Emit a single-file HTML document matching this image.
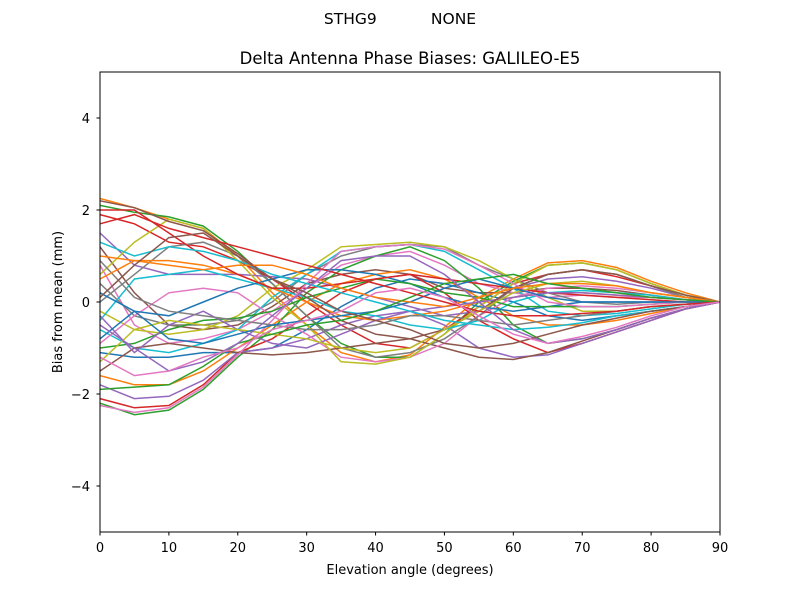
<!DOCTYPE html>
<html><head><meta charset="utf-8"><style>
body{margin:0;background:#fff;}
svg{display:block;font-family:"DejaVu Sans","Liberation Sans",sans-serif;}
</style></head><body>
<svg id="chart" width="800" height="600" viewBox="0 0 800 600">
<text x="400" y="24" text-anchor="middle" font-size="15.5" xml:space="preserve">STHG9           NONE</text>
<text x="410" y="64" text-anchor="middle" font-size="16.5">Delta Antenna Phase Biases: GALILEO-E5</text>
<g id="lines"></g>
<rect x="100" y="72" width="620" height="460" fill="none" stroke="#000" stroke-width="1"/>
<g id="ticks"></g>
<text x="410" y="574" text-anchor="middle" font-size="13">Elevation angle (degrees)</text>
<text x="62" y="302" text-anchor="middle" font-size="13" transform="rotate(-90 62 302)">Bias from mean (mm)</text>
</svg>
<script>
const elevations = [0,5,10,15,20,25,30,35,40,45,50,55,60,65,70,75,80,85,90];
const xTicks = [0,10,20,30,40,50,60,70,80,90];
const yTicks = [-4,-2,0,2,4];
const yTickLabels = ["\u22124","\u22122","0","2","4"];
const s1 = [2.25,2.05,1.8,1.6,1.0,0.2,-0.5,-1.1,-1.3,-1.15,-0.55,0.1,0.5,0.85,0.9,0.75,0.45,0.2,0];
const s2 = [2.1,1.95,1.85,1.65,1.1,0.4,-0.3,-0.9,-1.2,-1.2,-0.7,0.0,0.45,0.8,0.85,0.7,0.4,0.15,0];
const s3 = [1.9,1.7,1.3,1.2,0.9,0.5,0.0,-0.5,-0.9,-1.0,-0.6,-0.1,0.4,0.6,0.7,0.55,0.35,0.1,0];
const s4 = [1.5,0.8,0.6,0.6,0.6,0.55,0.5,0.3,0.1,-0.1,-0.3,-0.2,0.3,0.5,0.55,0.45,0.3,0.1,0];
const s5 = [1.2,0.2,-0.5,-0.6,-0.5,-0.1,0.4,0.6,0.7,0.6,0.3,0.2,0.2,0.3,0.3,0.25,0.15,0.05,0];
const s6 = [0.8,-0.5,-0.9,-0.8,-0.6,-0.2,0.3,0.8,1.0,1.1,0.8,0.4,0.2,0.1,0.15,0.1,0.1,0.05,0];
const s7 = [0.4,-0.3,-0.5,-0.5,-0.4,0.0,0.6,1.0,1.2,1.25,1.2,0.8,0.5,0.2,0.0,-0.05,0.0,0.0,0];
const s8 = [-0.2,-0.6,-0.7,-0.6,-0.3,0.3,0.7,1.2,1.25,1.3,1.2,0.9,0.5,0.1,-0.2,-0.2,-0.1,-0.05,0];
const s9 = [-0.6,-1.0,-1.1,-0.9,-0.6,0.1,0.6,1.1,1.2,1.25,1.1,0.7,0.3,-0.2,-0.3,-0.25,-0.15,-0.05,0];
const s10 = [-1.1,-1.2,-1.2,-1.1,-1.1,-1.0,-0.6,-0.1,0.3,0.5,0.4,0.2,0.0,-0.3,-0.4,-0.3,-0.2,-0.1,0];
const s11 = [-1.6,-1.8,-1.8,-1.5,-1.0,-0.5,0.0,0.4,0.6,0.7,0.5,0.1,-0.3,-0.5,-0.5,-0.4,-0.25,-0.1,0];
const s12 = [-2.2,-2.45,-2.35,-1.9,-1.2,-0.6,0.2,0.7,1.0,1.2,0.9,0.3,-0.5,-0.9,-0.8,-0.6,-0.35,-0.15,0];
const s13 = [-2.1,-2.3,-2.25,-1.8,-1.1,-0.8,-0.3,0.2,0.5,0.6,0.2,-0.4,-0.8,-1.1,-0.9,-0.65,-0.4,-0.15,0];
const s14 = [-1.8,-2.1,-2.05,-1.7,-1.1,-1.0,-0.8,-0.5,-0.3,-0.2,-0.5,-1.0,-1.2,-1.15,-0.9,-0.65,-0.4,-0.15,0];
const s15 = [-1.5,-1.0,-0.9,-1.0,-1.1,-1.15,-1.1,-1.0,-0.9,-0.8,-1.0,-1.2,-1.25,-1.1,-0.85,-0.6,-0.35,-0.15,0];
const s16 = [-0.9,-0.3,0.2,0.3,0.2,-0.3,-0.7,-1.2,-1.3,-1.2,-0.9,-0.3,0.1,0.3,0.35,0.3,0.2,0.1,0];
const s17 = [0.0,0.6,1.2,1.3,1.0,0.4,-0.3,-1.0,-1.2,-1.1,-0.8,-0.3,0.3,0.6,0.7,0.6,0.35,0.1,0];
const s18 = [0.6,1.3,1.8,1.6,0.9,0.1,-0.5,-1.3,-1.35,-1.2,-0.7,-0.1,0.4,0.8,0.85,0.7,0.4,0.15,0];
const s19 = [-0.4,0.5,0.6,0.7,0.5,0.3,0.1,-0.2,-0.3,-0.5,-0.6,-0.4,0.0,0.2,0.25,0.2,0.15,0.05,0];
const s20 = [0.2,-0.2,-0.3,0.0,0.3,0.5,0.7,0.7,0.6,0.4,0.1,-0.1,-0.2,-0.1,0.0,0.0,0.0,0.0,0];
const s21 = [1.0,0.9,0.9,0.8,0.6,0.3,0.0,-0.3,-0.4,-0.3,-0.2,0.0,0.1,0.2,0.2,0.15,0.1,0.05,0];
const s22 = [-1.0,-0.9,-0.6,-0.4,-0.35,-0.2,0.1,0.3,0.5,0.4,0.2,0.1,-0.1,-0.1,-0.1,-0.1,-0.05,0,0];
const s23 = [2.0,2.0,1.5,1.0,0.6,0.3,0.3,0.4,0.5,0.6,0.5,0.4,0.3,0.2,0.15,0.1,0.05,0,0];
const s24 = [-0.3,-1.1,-0.5,-0.2,-0.6,-0.9,-1.0,-0.7,-0.4,-0.2,-0.1,0.0,0.1,0.2,0.2,0.15,0.1,0.05,0];
const s25 = [2.2,2.05,1.75,1.55,1.05,0.5,0.1,-0.4,-0.7,-0.8,-0.6,-0.2,0.3,0.6,0.7,0.6,0.35,0.15,0];
const s26 = [-2.25,-2.4,-2.3,-1.85,-1.15,-0.4,0.4,1.1,1.2,1.25,1.15,0.8,0.4,0.0,-0.1,-0.1,-0.05,0,0];
const s27 = [0.9,0.1,-0.2,-0.3,-0.4,-0.5,-0.6,-0.6,-0.5,-0.3,-0.3,-0.4,-0.5,-0.4,-0.3,-0.2,-0.1,-0.05,0];
const s28 = [-1.3,-0.6,-0.4,-0.5,-0.6,-0.7,-0.8,-1.0,-1.1,-1.0,-0.6,-0.2,0.2,0.4,0.45,0.35,0.2,0.1,0];
const s29 = [1.3,1.0,1.2,1.1,0.9,0.6,0.4,0.2,0.0,-0.2,-0.4,-0.5,-0.6,-0.55,-0.45,-0.3,-0.2,-0.1,0];
const s30 = [-0.8,-0.2,-0.8,-0.9,-0.7,-0.5,-0.4,-0.3,-0.2,0.0,0.3,0.5,0.3,0.1,0.0,0.0,0.0,0.0,0];
const s31 = [0.5,0.9,0.8,0.7,0.8,0.8,0.6,0.3,0.1,0.0,-0.1,0.1,0.3,0.4,0.4,0.35,0.2,0.1,0];
const s32 = [-1.9,-1.85,-1.8,-1.4,-0.9,-0.7,-0.5,-0.4,-0.2,0.1,0.4,0.5,0.6,0.4,0.3,0.2,0.1,0.05,0];
const s33 = [1.7,1.9,1.6,1.4,1.2,1.0,0.8,0.6,0.4,0.2,0.0,-0.2,-0.3,-0.3,-0.25,-0.2,-0.1,-0.05,0];
const s34 = [-0.5,-1.0,-1.5,-1.3,-0.9,-0.3,0.3,0.9,1.0,1.0,0.6,0.0,-0.6,-0.9,-0.8,-0.6,-0.35,-0.15,0];
const s35 = [0.1,0.8,1.4,1.5,1.0,0.5,0.2,-0.2,-0.4,-0.6,-0.9,-1.0,-0.9,-0.7,-0.5,-0.35,-0.2,-0.1,0];
const s36 = [-1.2,-1.6,-1.5,-1.2,-1.0,-0.6,-0.4,-0.2,0.2,0.3,0.1,-0.3,-0.7,-0.9,-0.75,-0.55,-0.3,-0.1,0];
const series = [s1,s2,s3,s4,s5,s6,s7,s8,s9,s10,s11,s12,s13,s14,s15,s16,s17,s18,s19,s20,s21,s22,s23,s24,s25,s26,s27,s28,s29,s30,s31,s32,s33,s34,s35,s36];
const colors = ["#ff7f0e","#2ca02c","#d62728","#9467bd","#8c564b","#e377c2","#7f7f7f","#bcbd22","#17becf","#1f77b4"];

const NS = "http://www.w3.org/2000/svg";
function xScale(v){ return 100 + (v/90)*620; }
function yScale(v){ return 302 - v*46; }

const lg = document.getElementById("lines");
series.forEach((s, i) => {
  const p = document.createElementNS(NS, "polyline");
  p.setAttribute("points", s.map((v, j) => xScale(elevations[j]).toFixed(1) + "," + yScale(v).toFixed(1)).join(" "));
  p.setAttribute("fill", "none");
  p.setAttribute("stroke", colors[i % 10]);
  p.setAttribute("stroke-width", "1.5");
  
  
  lg.appendChild(p);
});

const tg = document.getElementById("ticks");
xTicks.forEach(t => {
  const x = xScale(t);
  const l = document.createElementNS(NS, "line");
  l.setAttribute("x1", x); l.setAttribute("x2", x);
  l.setAttribute("y1", 532); l.setAttribute("y2", 535.5);
  l.setAttribute("stroke", "#000");
  
  
  tg.appendChild(l);
  const tx = document.createElementNS(NS, "text");
  tx.setAttribute("x", x); tx.setAttribute("y", 552);
  tx.setAttribute("text-anchor", "middle"); tx.setAttribute("font-size", "13");
  tx.textContent = String(t);
  
  
  tg.appendChild(tx);
});
yTicks.forEach((t, i) => {
  const y = yScale(t);
  const l = document.createElementNS(NS, "line");
  l.setAttribute("x1", 96.5); l.setAttribute("x2", 100);
  l.setAttribute("y1", y); l.setAttribute("y2", y);
  l.setAttribute("stroke", "#000");
  
  
  tg.appendChild(l);
  const tx = document.createElementNS(NS, "text");
  tx.setAttribute("x", 90); tx.setAttribute("y", y + 5);
  tx.setAttribute("text-anchor", "end"); tx.setAttribute("font-size", "13");
  tx.textContent = yTickLabels[i];
  
  
  tg.appendChild(tx);
});
</script>
</body></html>
